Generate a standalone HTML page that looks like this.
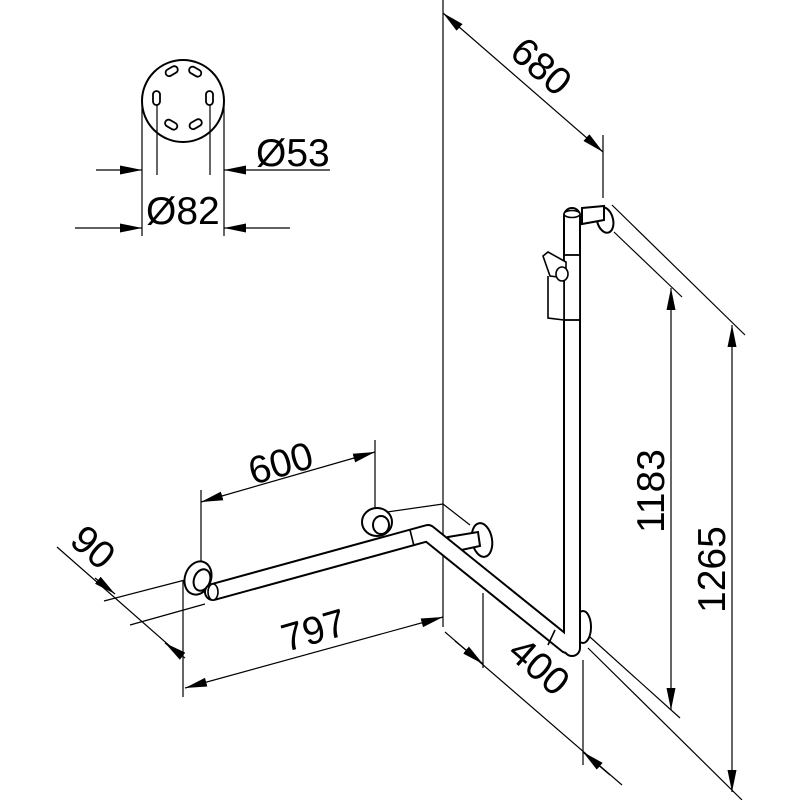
<!DOCTYPE html>
<html><head><meta charset="utf-8"><style>
html,body{margin:0;padding:0;background:#fff}
svg{display:block}
text{font-family:"Liberation Sans",sans-serif;font-size:39px;fill:#000}
</style></head><body>
<svg width="800" height="800" viewBox="0 0 800 800" xmlns="http://www.w3.org/2000/svg">
<defs>
<marker id="a" viewBox="0 0 22 9" refX="22" refY="4.5" markerWidth="22" markerHeight="9" markerUnits="userSpaceOnUse" orient="auto-start-reverse">
<path d="M0,0 L22,4.5 L0,9 Z" fill="#000"/></marker>
</defs>
<g stroke="#000" stroke-width="1.2" fill="none">
<circle cx="183" cy="101" r="41" stroke-width="2"/>
<g stroke-width="1.8">
<rect x="165" y="68" width="13" height="7" rx="3.5" transform="rotate(-30 171 71)"/>
<rect x="189" y="68" width="13" height="7" rx="3.5" transform="rotate(30 195 71)"/>
<rect x="153" y="91" width="7" height="14" rx="3.5"/>
<rect x="206" y="91" width="7" height="14" rx="3.5"/>
<rect x="165" y="121" width="13" height="7" rx="3.5" transform="rotate(30 171 124)"/>
<rect x="189" y="121" width="13" height="7" rx="3.5" transform="rotate(-30 195 124)"/>
</g>
<line x1="142" y1="105" x2="142" y2="236"/>
<line x1="224" y1="105" x2="224" y2="236"/>
<line x1="157" y1="105" x2="157" y2="175"/>
<line x1="210" y1="105" x2="210" y2="175"/>
<line x1="96" y1="170" x2="142" y2="170" marker-end="url(#a)"/>
<line x1="330" y1="170" x2="224" y2="170" marker-end="url(#a)"/>
<line x1="75" y1="228" x2="142" y2="228" marker-end="url(#a)"/>
<line x1="290" y1="228" x2="224" y2="228" marker-end="url(#a)"/>
<line x1="443" y1="0" x2="443" y2="627"/>
<line x1="380" y1="513" x2="443" y2="504"/>
<line x1="443" y1="504" x2="470" y2="525"/>
<line x1="443" y1="13" x2="603" y2="152" marker-start="url(#a)" marker-end="url(#a)"/>
<line x1="603" y1="135" x2="603" y2="198"/>
<line x1="612" y1="205" x2="745" y2="335"/>
<line x1="614" y1="232" x2="682" y2="297"/>
<line x1="590" y1="637" x2="680" y2="718"/>
<line x1="588" y1="648" x2="742" y2="800"/>
<line x1="671" y1="288" x2="671" y2="710" marker-start="url(#a)" marker-end="url(#a)"/>
<line x1="732" y1="325" x2="732" y2="792" marker-start="url(#a)" marker-end="url(#a)"/>
<line x1="445" y1="632" x2="622" y2="785"/>
<line x1="455" y1="641" x2="483" y2="664" marker-end="url(#a)"/>
<line x1="610" y1="775" x2="583" y2="752" marker-end="url(#a)"/>
<line x1="483" y1="593" x2="483" y2="668"/>
<line x1="583" y1="660" x2="583" y2="765"/>
<line x1="201" y1="502" x2="375" y2="452" marker-start="url(#a)" marker-end="url(#a)"/>
<line x1="201" y1="490" x2="201" y2="568"/>
<line x1="375" y1="440" x2="375" y2="510"/>
<line x1="185" y1="688" x2="443" y2="617" marker-start="url(#a)" marker-end="url(#a)"/>
<line x1="183" y1="580" x2="183" y2="697"/>
<line x1="57" y1="547" x2="180" y2="655"/>
<line x1="95" y1="578" x2="115" y2="594" marker-end="url(#a)"/>
<line x1="185" y1="658" x2="165" y2="643" marker-end="url(#a)"/>
<line x1="104" y1="601" x2="185" y2="580"/>
<line x1="130" y1="625" x2="205" y2="604"/>
</g>
<g stroke="#000" stroke-width="2" fill="#fff">
<ellipse cx="198" cy="578" rx="13" ry="17" transform="rotate(20 198 578)"/>
<ellipse cx="202" cy="580" rx="8" ry="11" transform="rotate(20 202 580)"/>
<ellipse cx="377" cy="522" rx="15" ry="14"/>
<ellipse cx="381" cy="525" rx="8" ry="9"/>
<ellipse cx="482" cy="540" rx="10" ry="17" transform="rotate(-10 482 540)"/>
<ellipse cx="583" cy="627" rx="8" ry="16"/>
<ellipse cx="605" cy="220" rx="8" ry="13" transform="rotate(-15 605 220)"/>
<path d="M448,537 L478,532 L480,546 L452,552 Z"/>
<path d="M582,208 L604,206 L604,220 L582,224 Z"/>
</g>
<g fill="none" stroke-linejoin="round" stroke-linecap="round">
<path d="M213,592 L428,533 L567,645 M572,648 L572,216" stroke="#000" stroke-width="18"/>
<path d="M213,592 L428,533 L567,645 M572,648 L572,216" stroke="#fff" stroke-width="14"/>
</g>
<g stroke="#000" stroke-width="1.6" fill="none">
<ellipse cx="213" cy="592" rx="5" ry="8" fill="#fff"/>
<ellipse cx="572" cy="214" rx="8" ry="3.5" fill="#fff"/>
<line x1="410" y1="530" x2="414" y2="546"/>
<line x1="555" y1="630" x2="548" y2="645"/>
<rect x="564" y="255" width="16" height="65" fill="#fff" stroke-width="1.8"/>
<path d="M548,276 L548,318 L564,320 L564,280" fill="#fff"/>
<path d="M543,256 L548,252 L566,262 L566,278 L550,276 Z" fill="#fff"/>
<ellipse cx="562" cy="274" rx="6" ry="7" fill="#fff"/>
</g>
<text x="256" y="166">Ø53</text>
<text x="146" y="224">Ø82</text>
<text transform="translate(508,55) rotate(41)">680</text>
<text transform="translate(253,485) rotate(-16)">600</text>
<text transform="translate(286,652) rotate(-16)">797</text>
<text transform="translate(68,543) rotate(41)">90</text>
<text transform="translate(506,655) rotate(41)">400</text>
<text transform="translate(664,533) rotate(-90)">1183</text>
<text transform="translate(725,613) rotate(-90)">1265</text>
</svg>
</body></html>
